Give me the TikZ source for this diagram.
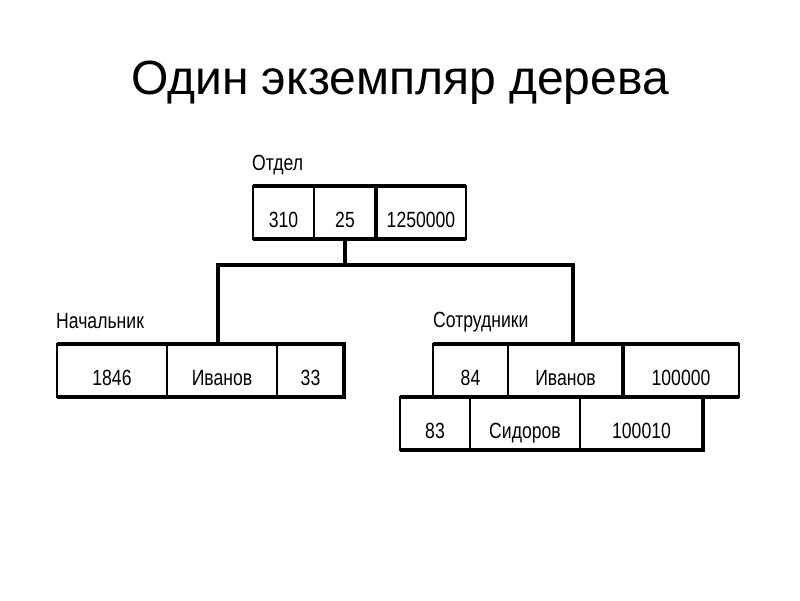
\documentclass[tikz,border=0pt]{standalone}
\usepackage{fontspec}
\setmainfont{Liberation Sans}
\newfontfamily\cellfont[FakeStretch=0.8]{Liberation Sans}
\usetikzlibrary{positioning}
\tikzset{
    rec cell/.style={rectangle, draw, line width=1.6pt, inner xsep=0pt, inner ysep=0pt, outer sep=0pt,
        minimum width=#1, text height=41pt, text depth=12pt, font=\cellfont\fontsize{22}{22}\selectfont},
    rec label/.style={anchor=base west, inner sep=0pt, font=\cellfont\fontsize{22}{22}\selectfont},
    rec rule/.style={line width=4pt},
    tree link/.style={draw, line width=4pt},
    title/.style={anchor=base, inner sep=0pt, font=\fontsize{48}{48}\selectfont}
}

\begin{document}
\begin{tikzpicture}[x=1pt, y=-1pt]
    \useasboundingbox[fill=white] (0,0) rectangle (800,600);
    \node[title] (ttl) at (400,94) {Один экземпляр дерева};

    \node[rec label] (ld) at (252,170) {Отдел};
    \node[rec label] (lb) at (56,328) {Начальник};
    \node[rec label] (le) at (433,327) {Сотрудники};

    \node[rec cell=61pt, anchor=north west] (d1) at (253,186) {310};
    \node[rec cell=62pt, right=0pt of d1] (d2) {25};
    \node[rec cell=90pt, right=0pt of d2] (d3) {1250000};

    \node[rec cell=110pt, anchor=north west] (b1) at (57,344) {1846};
    \node[rec cell=110pt, right=0pt of b1] (b2) {Иванов};
    \node[rec cell=67pt, right=0pt of b2] (b3) {33};

    \node[rec cell=75pt, anchor=north west] (e1) at (433,344) {84};
    \node[rec cell=115pt, right=0pt of e1] (e2) {Иванов};
    \node[rec cell=116pt, right=0pt of e2] (e3) {100000};

    \node[rec cell=70pt, anchor=north west] (f1) at (400,397) {83};
    \node[rec cell=110pt, right=0pt of f1] (f2) {Сидоров};
    \node[rec cell=123pt, right=0pt of f2] (f3) {100010};

    \begin{scope}[rec rule]
        \draw (d1.north west) -- (d3.north east);
        \draw (d1.south west) -- (d3.south east);
        \draw (d2.north east) -- (d2.south east);
        \draw (b1.north west) -- (b3.north east) -- (b3.south east) -- (b1.south west);
        \draw (e1.north west) -- (e3.north east);
        \draw (e2.north east) -- (e2.south east);
        \draw (f1.north west) -- (e3.south east);
        \draw (f1.south west) -- (f3.south east) -- (f3.north east);
    \end{scope}

    \coordinate (bus) at (0,265);
    \coordinate (bl) at ([xshift=-4pt]b2.north);
    \coordinate (er) at ([xshift=7pt]e2.north);
    \draw[tree link] (d2.south) -- (d2.south |- bus);
    \draw[tree link] (bl) |- (bus -| er) -- (er);
\end{tikzpicture}
\end{document}
